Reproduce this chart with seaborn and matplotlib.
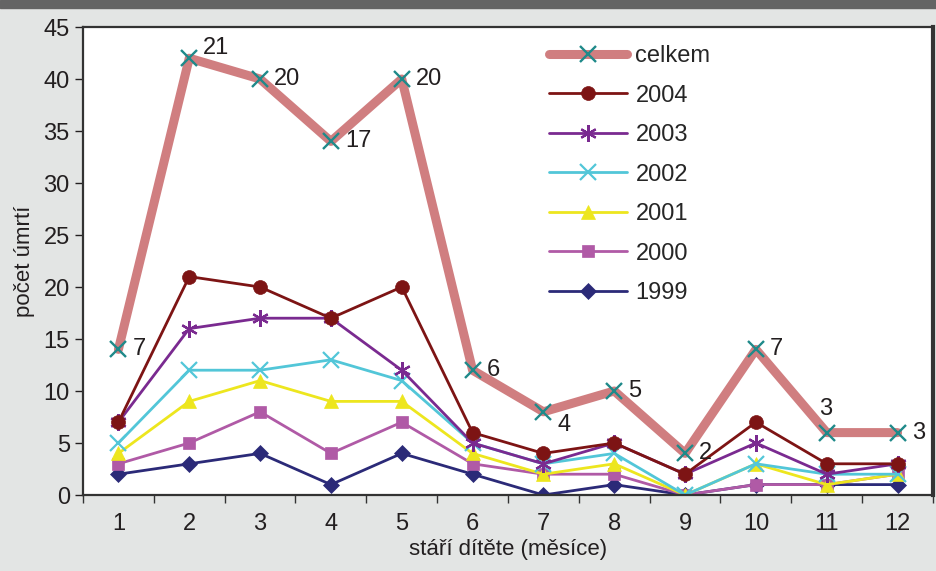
import pandas as pd
import matplotlib.pyplot as plt
import seaborn as sns
from matplotlib.lines import Line2D
from matplotlib.patches import Rectangle
from matplotlib import font_manager

months = [1, 2, 3, 4, 5, 6, 7, 8, 9, 10, 11, 12]
celkem_plot = [14, 42, 40, 34, 40, 12, 8, 10, 4, 14, 6, 6]
celkem_labels = [7, 21, 20, 17, 20, 6, 4, 5, 2, 7, 3, 3]
y2004 = [7, 21, 20, 17, 20, 6, 4, 5, 2, 7, 3, 3]
y2003 = [7, 16, 17, 17, 12, 5, 3, 5, 2, 5, 2, 3]
y2002 = [5, 12, 12, 13, 11, 5, 3, 4, 0, 3, 2, 2]
y2001 = [4, 9, 11, 9, 9, 4, 2, 3, 0, 3, 1, 2]
y2000 = [3, 5, 8, 4, 7, 3, 2, 2, 0, 1, 1, 2]
y1999 = [2, 3, 4, 1, 4, 2, 0, 1, 0, 1, 1, 1]

years = ["2004", "2003", "2002", "2001", "2000", "1999"]
year_values = [y2004, y2003, y2002, y2001, y2000, y1999]
colors = {"2004": "#7d1414", "2003": "#7a2a90", "2002": "#52c6d8",
          "2001": "#ede61e", "2000": "#b05aa6", "1999": "#2b2a78"}
markers = {"2004": "o", "2003": (6, 2, 0), "2002": "x",
           "2001": "^", "2000": "s", "1999": "D"}
msizes = {"2004": 10, "2003": 12, "2002": 12, "2001": 10, "2000": 9, "1999": 8.5}

# pick a narrow font if available
names = {f.name for f in font_manager.fontManager.ttflist}
fam = "Liberation Sans Narrow" if "Liberation Sans Narrow" in names else "Liberation Sans"

sns.set_style("ticks")
plt.rcParams["font.family"] = [fam, "DejaVu Sans"]

df = pd.DataFrame({
    "month": months * len(years),
    "count": sum(year_values, []),
    "year": [y for y in years for _ in months],
})

fig = plt.figure(figsize=(9.37, 5.71), dpi=100)
fig.patch.set_facecolor("#e3e5e4")
fig.patches.append(Rectangle((0, 1 - 8 / 571), 1, 8 / 571, transform=fig.transFigure,
                             color="#646464", zorder=0))
ax = fig.add_axes([83 / 937, 1 - 495 / 571, (933 - 83) / 937, (495 - 27) / 571])
ax.set_facecolor("white")

# yearly series, oldest first so 2004 sits on top
for y in years[::-1]:
    sub = df[df["year"] == y]
    sns.lineplot(data=sub, x="month", y="count", ax=ax, color=colors[y], lw=2,
                 marker=markers[y], markersize=msizes[y], markeredgecolor=colors[y],
                 markeredgewidth=1.6 if markers[y] in ("x", (6, 2, 0)) else 0.5,
                 legend=False)

# total line
sns.lineplot(x=months, y=celkem_plot, ax=ax, color="#d07e80", lw=6.5, marker="x",
             markersize=12, markeredgecolor="#1f8a8a", markeredgewidth=1.7,
             legend=False, zorder=5)

for m, v, lab in zip(months, celkem_plot, celkem_labels):
    dx, dy = 14, 0
    if m == 11:
        dx, dy = -8, 24
    elif m == 2:
        dx, dy = 14, 10
    elif m == 7:
        dx, dy = 14, -13
    ax.annotate(str(lab), (m, v), xytext=(dx, dy), textcoords="offset pixels",
                ha="left", va="center", fontsize=17, color="#231f20", zorder=6)

ax.set_xlim(0.5, 12.5)
ax.set_ylim(0, 45)
ax.set_xticks(months)
ax.set_xticklabels([str(m) for m in months])
ax.set_xticks([m + 0.5 for m in range(0, 13)], minor=True)
ax.tick_params(axis="x", which="major", length=0, labelsize=17, pad=13, colors="#231f20")
ax.tick_params(axis="x", which="minor", length=6, width=1, color="#333333")
ax.set_yticks(range(0, 46, 5))
ax.tick_params(axis="y", length=6, width=1, labelsize=17, colors="#231f20")
for s in ax.spines.values():
    s.set_color("#333333")
    s.set_linewidth(1.6)
ax.spines["right"].set_linewidth(3)

ax.set_xlabel("stáří dítěte (měsíce)", fontsize=16, color="#231f20", labelpad=3)
ax.set_ylabel("počet úmrtí", fontsize=16, color="#231f20", labelpad=6)

handles = [Line2D([], [], color="#d07e80", lw=6.5, marker="x", markersize=12,
                  markeredgecolor="#1f8a8a", markeredgewidth=1.7)]
for y in years:
    handles.append(Line2D([], [], color=colors[y], lw=2, marker=markers[y],
                          markersize=msizes[y], markeredgecolor=colors[y],
                          markeredgewidth=1.6 if markers[y] in ("x", (6, 2, 0)) else 0.5))
fig.legend(handles, ["celkem"] + years, loc="upper left",
           bbox_to_anchor=(528 / 937, 1 - 24 / 571), frameon=False, fontsize=17,
           handlelength=3.3, handletextpad=0.35, labelspacing=0.74)

fig.savefig("out.png", dpi=100, facecolor=fig.get_facecolor())
